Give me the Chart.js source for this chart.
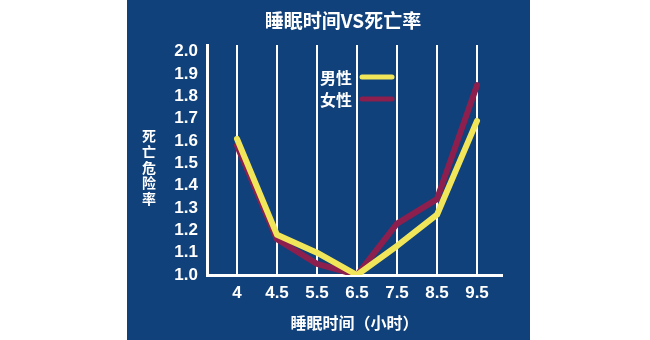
<!DOCTYPE html>
<html>
<head>
<meta charset="utf-8">
<script src="https://cdn.jsdelivr.net/npm/chart.js@4.4.1/dist/chart.umd.min.js"></script>
<style>
  html, body { margin: 0; padding: 0; background: #ffffff; }
  #wrap { width: 650px; height: 340px; }
</style>
</head>
<body>
<div id="wrap"><canvas id="c" width="650" height="340"></canvas></div>
<script>
const categories = ["4", "4.5", "5.5", "6.5", "7.5", "8.5", "9.5"];
const maleValues = [1.61, 1.18, 1.10, 1.00, 1.13, 1.27, 1.69];
const femaleValues = [1.58, 1.16, 1.05, 1.00, 1.23, 1.34, 1.85];
const yTickLabels = ["1.0", "1.1", "1.2", "1.3", "1.4", "1.5", "1.6", "1.7", "1.8", "1.9", "2.0"];
const seriesNames = ["男性", "女性"];
const chartTitle = "睡眠时间VS死亡率";
const yTitle = "死亡危险率";
const xTitle = "睡眠时间（小时）";

const PANEL = "#10417a";
const YELLOW = "#f1e65a";
const RED = "#8c1f4e";
const FONT = "'Liberation Sans', 'Noto Sans CJK SC', sans-serif";
const CJK = "'Noto Sans CJK SC', sans-serif";

const panelPlugin = {
  id: "panel",
  beforeDraw(chart) {
    const ctx = chart.ctx;
    ctx.save();
    ctx.fillStyle = PANEL;
    ctx.fillRect(127, 0, 403, chart.height);
    ctx.restore();
  }
};

const extrasPlugin = {
  id: "extras",
  afterDraw(chart) {
    const ctx = chart.ctx;
    ctx.save();
    ctx.fillStyle = "#ffffff";
    // chart title
    ctx.font = "bold 19px " + CJK;
    ctx.textAlign = "center";
    ctx.textBaseline = "middle";
    ctx.fillText(chartTitle, 343, 21);
    // vertical y-axis title
    ctx.font = "bold 14px " + CJK;
    Array.from(yTitle).forEach((ch, i) => ctx.fillText(ch, 149, 136 + i * 15.7));
    // legend
    ctx.font = "bold 16px " + CJK;
    ctx.textAlign = "left";
    chart.data.datasets.forEach((d, i) => {
      const y = 77 + i * 22;
      ctx.fillStyle = "#ffffff";
      ctx.fillText(d.label, 320, y + 1);
      ctx.strokeStyle = d.borderColor;
      ctx.lineWidth = 5;
      ctx.lineCap = "round";
      ctx.beginPath();
      ctx.moveTo(362, y);
      ctx.lineTo(392, y);
      ctx.stroke();
    });
    ctx.restore();
  }
};

const toPoints = arr => arr.map((v, i) => ({ x: i, y: v }));

new Chart(document.getElementById("c"), {
  type: "line",
  data: {
    datasets: [
      { label: seriesNames[0], data: toPoints(maleValues), borderColor: YELLOW, borderWidth: 6,
        pointRadius: 0, tension: 0, borderJoinStyle: "round", borderCapStyle: "round", fill: false },
      { label: seriesNames[1], data: toPoints(femaleValues), borderColor: RED, borderWidth: 6,
        pointRadius: 0, tension: 0, borderJoinStyle: "round", borderCapStyle: "round", fill: false }
    ]
  },
  options: {
    responsive: false,
    animation: false,
    events: [],
    layout: { padding: { left: 36, right: 148, top: 45, bottom: 0 } },
    plugins: {
      legend: { display: false },
      tooltip: { enabled: false },
      title: { display: false }
    },
    scales: {
      x: {
        type: "linear",
        min: -0.75,
        max: 6.625,
        afterBuildTicks(scale) { scale.ticks = categories.map((c, i) => ({ value: i })); },
        afterFit(scale) { scale.height = 65; },
        ticks: {
          color: "#ffffff",
          font: { family: FONT, size: 17, weight: "bold" },
          padding: 8,
          autoSkip: false,
          maxRotation: 0,
          callback: (v) => categories[v]
        },
        grid: { display: true, color: "#ffffff", lineWidth: 2, drawTicks: false },
        border: { display: true, color: "#ffffff", width: 3 },
        title: {
          display: true,
          text: xTitle,
          color: "#ffffff",
          font: { family: CJK, size: 16, weight: "bold", lineHeight: 1.2 },
          padding: { top: 4, bottom: 7 }
        }
      },
      y: {
        type: "linear",
        min: 1.0,
        max: 2.03,
        afterBuildTicks(scale) { scale.ticks = yTickLabels.map(t => ({ value: parseFloat(t) })); },
        afterFit(scale) { scale.width = 171; },
        ticks: {
          color: "#ffffff",
          font: { family: FONT, size: 17, weight: "bold" },
          padding: 9,
          autoSkip: false,
          callback: (v) => yTickLabels.find(t => Math.abs(parseFloat(t) - v) < 1e-6)
        },
        grid: { display: false, drawTicks: false },
        border: { display: true, color: "#ffffff", width: 3 }
      }
    }
  },
  plugins: [panelPlugin, extrasPlugin]
});
</script>
</body>
</html>
